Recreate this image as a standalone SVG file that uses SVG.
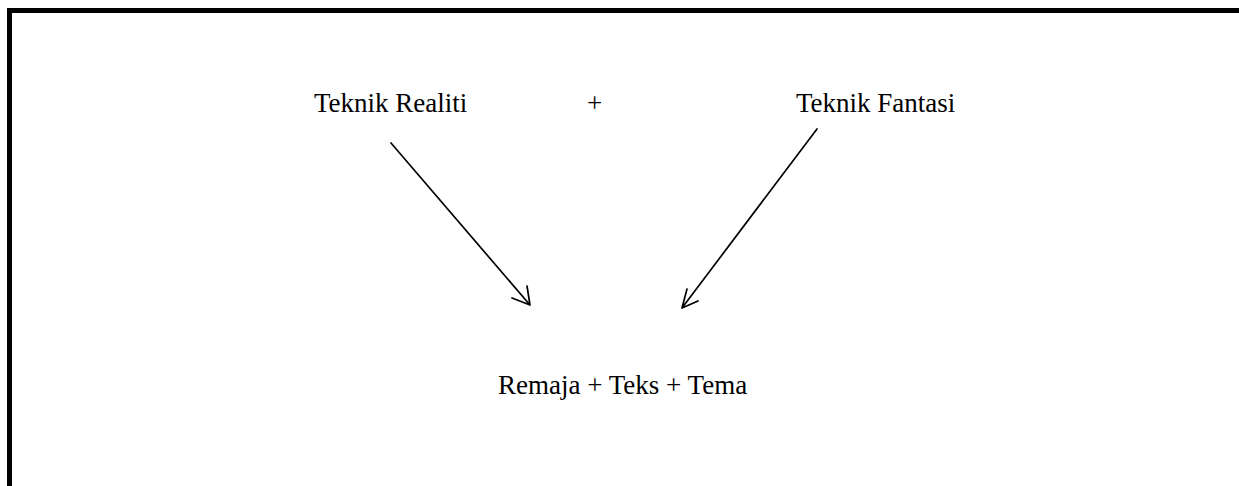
<svg xmlns="http://www.w3.org/2000/svg" width="1239" height="486" viewBox="0 0 1239 486">
<style>
.t{font-family:"Liberation Serif","Times New Roman",serif;font-size:27px;fill:#000}
.c{fill:none;stroke:#000;stroke-width:1.7;stroke-linecap:round;stroke-linejoin:round}
</style>
<rect x="0" y="0" width="1239" height="486" fill="#fff"/>
<rect x="9.5" y="10.5" width="1250" height="500" fill="none" stroke="#000" stroke-width="5"/>
<g id="node-realiti"><text class="t" x="314" y="112">Teknik Realiti</text></g>
<g id="node-plus"><text class="t" x="587" y="112">+</text></g>
<g id="node-fantasi"><text class="t" x="796" y="112">Teknik Fantasi</text></g>
<g id="node-remaja"><text class="t" x="498" y="394">Remaja + Teks + Tema</text></g>
<g id="connectors">
<path class="c" d="M391,143 L530,305 M512,298 L530,305 L527,286"/>
<path class="c" d="M817,129 L682,308 M687,289 L682,308 L698,301"/>
</g>
</svg>
